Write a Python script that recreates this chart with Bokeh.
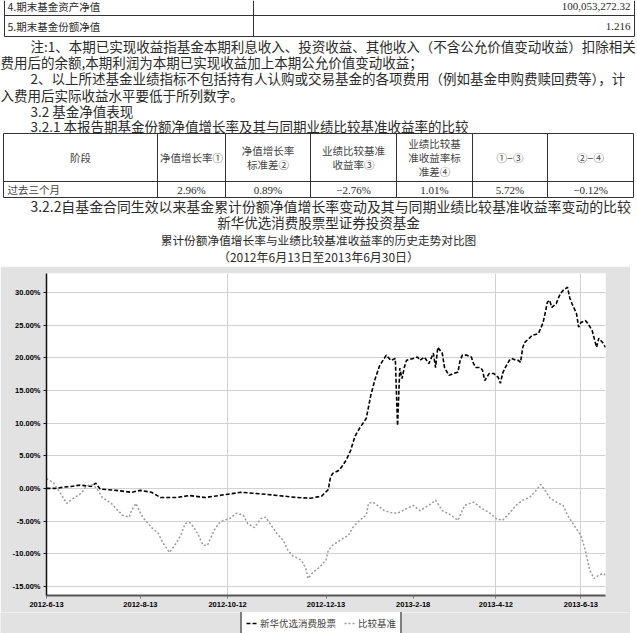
from bokeh.plotting import figure
from bokeh.models import Range1d, FixedTicker, Legend, LegendItem
from bokeh.embed import file_html
from bokeh.resources import INLINE
from bokeh.core.properties import value

# ---------------- data ----------------
x_tick_idx = [0, 42, 81, 125, 164, 201, 239]
x_tick_labels = ["2012-6-13", "2012-8-13", "2012-10-12", "2012-12-13",
                 "2013-2-18", "2013-4-12", "2013-6-13"]
x_grid_idx = [81, 201, 239]
y_ticks = [-15, -10, -5, 0, 5, 10, 15, 20, 25, 30]
y_tick_labels = ["-15.00%", "-10.00%", "-5.00%", "0.00%", "5.00%", "10.00%",
                 "15.00%", "20.00%", "25.00%", "30.00%"]

fund_idx = [0, 4, 8, 11, 15, 20, 22, 24, 31, 38,
            42, 47, 51, 58, 64, 71, 75, 87, 98, 112,
            118, 123, 126, 127, 128, 131, 134, 136, 138, 140,
            143, 145, 147, 149, 152, 154, 156, 157, 158, 159,
            160, 161, 164, 166, 167, 169, 171, 173, 174, 175,
            177, 178, 180, 182, 184, 185, 186, 188, 190, 191,
            192, 194, 195, 196, 198, 200, 202, 203, 204, 205,
            207, 208, 210, 211, 212, 213, 214, 216, 217, 220,
            221, 222, 223, 224, 225, 226, 228, 229, 230, 231,
            233, 234, 235, 237, 238, 239, 241, 242, 244, 246,
            247, 249, 250]
fund_val = [0.0, 0.0, 0.2, 0.3, 0.5, 0.3, 0.8, -0.1, -0.3, -0.6,
            -0.3, -0.6, -1.4, -1.4, -1.1, -1.4, -1.2, -0.6, -0.9, -1.4,
            -1.5, -1.2, -0.2, 1.7, 2.3, 2.8, 4.3, 5.8, 8.0, 9.2,
            10.7, 14.2, 16.8, 18.8, 20.4, 19.6, 19.9, 9.6, 18.4, 16.8,
            18.5, 19.6, 19.9, 20.1, 19.6, 20.1, 19.1, 20.7, 18.5, 21.6,
            20.7, 18.5, 17.3, 17.6, 17.8, 19.6, 20.4, 20.4, 20.1, 19.1,
            18.5, 18.5, 18.1, 16.5, 17.6, 17.6, 17.0, 16.1, 17.6, 18.4,
            19.6, 19.9, 19.6, 19.6, 19.3, 21.6, 22.4, 23.0, 23.4, 23.7,
            24.5, 25.3, 26.8, 28.5, 28.8, 27.7, 28.3, 29.2, 29.9, 30.3,
            30.8, 29.2, 28.3, 26.8, 24.7, 25.4, 25.7, 25.3, 24.2, 21.6,
            23.0, 22.2, 21.6]

bench_idx = [0, 3, 6, 9, 12, 14, 16, 17, 19, 21,
             23, 25, 29, 32, 34, 37, 38, 40, 41, 43,
             47, 50, 52, 55, 58, 60, 62, 64, 66, 68,
             70, 72, 75, 77, 79, 82, 85, 88, 90, 93,
             96, 98, 100, 103, 106, 108, 110, 114, 116, 117,
             119, 122, 125, 126, 128, 131, 135, 137, 140, 143,
             144, 146, 148, 151, 154, 157, 161, 164, 167, 171,
             174, 177, 181, 184, 187, 191, 194, 198, 201, 204,
             207, 210, 213, 216, 219, 221, 223, 225, 228, 231,
             233, 236, 239, 241, 243, 245, 247, 249, 250]
bench_val = [1.5, 0.9, -0.6, -2.3, -1.5, -1.1, -0.6, 0.0, 0.5, 0.5,
             -0.3, -1.4, -2.3, -3.4, -4.1, -4.4, -3.4, -2.3, -3.1, -4.4,
             -6.0, -6.9, -8.3, -9.8, -8.4, -7.2, -5.4, -5.2, -6.0, -7.2,
             -8.7, -8.7, -6.4, -5.4, -4.9, -4.6, -3.8, -4.1, -5.4, -6.0,
             -4.6, -4.4, -5.4, -6.9, -8.0, -9.5, -10.3, -11.0, -12.3, -13.8,
             -12.9, -12.1, -11.0, -9.5, -8.7, -8.0, -7.2, -6.0, -4.9, -4.1,
             -2.3, -2.1, -2.6, -3.4, -3.7, -3.8, -3.1, -2.6, -3.4, -2.6,
             -1.8, -3.4, -4.1, -4.9, -2.6, -2.1, -2.9, -3.7, -4.6, -4.9,
             -3.8, -2.6, -1.8, -1.4, -0.3, 0.6, -0.3, -1.4, -2.1, -2.6,
             -4.1, -5.7, -7.2, -9.5, -12.6, -13.8, -13.3, -13.0, -13.3]
series_names = ["新华优选消费股票", "比较基准"]

nav_labels = ["4.期末基金资产净值", "5.期末基金份额净值"]
nav_values = ["100,053,272.32", "1.216"]
table_header = [["阶段"], ["净值增长率①"], ["净值增长率", "标准差②"],
                ["业绩比较基准", "收益率③"], ["业绩比较基", "准收益率标", "准差④"],
                ["①−③"], ["②−④"]]
table_row = ["过去三个月", "2.96%", "0.89%", "−2.76%", "1.01%", "5.72%", "−0.12%"]

note_lines = [
    "注:1、本期已实现收益指基金本期利息收入、投资收益、其他收入（不含公允价值变动收益）扣除相关",
    "费用后的余额,本期利润为本期已实现收益加上本期公允价值变动收益；",
    "2、以上所述基金业绩指标不包括持有人认购或交易基金的各项费用（例如基金申购费赎回费等），计",
    "入费用后实际收益水平要低于所列数字。",
    "3.2 基金净值表现",
    "3.2.1 本报告期基金份额净值增长率及其与同期业绩比较基准收益率的比较",
]
section_line = "3.2.2自基金合同生效以来基金累计份额净值增长率变动及其与同期业绩比较基准收益率变动的比较"
chart_titles = ["新华优选消费股票型证券投资基金",
                "累计份额净值增长率与业绩比较基准收益率的历史走势对比图",
                "（2012年6月13日至2013年6月30日）"]

# ---------------- styles ----------------
CJK = "Noto Sans CJK SC"
SERIF = "Liberation Serif"
SANS = "Liberation Sans"
TXT = "#2a2a2a"
GRAY = "#e2e2e2"
W = 637
CW = 630
TOP_H = 266
LEG_H = 21
CH = 633 - TOP_H - LEG_H

top = figure(width=W, height=TOP_H, x_range=Range1d(0, W), y_range=Range1d(TOP_H, 0),
             output_backend="svg", toolbar_location=None, min_border=0,
             outline_line_color=None, background_fill_color="white", border_fill_color="white")
top.axis.visible = False
top.grid.visible = False


def put(x, y, s, size="13.5px", font=CJK, align="left", color=TXT):
    top.text(x=[x], y=[y], text=[s], text_font=value(font), text_font_size=size,
             text_align=align, text_baseline="middle", text_color=color)


# small NAV table fragment
top.segment(x0=[4, 253, 634], y0=[0, 0, 0], x1=[4, 253, 634], y1=[36, 36, 36],
            line_color="#333", line_width=1)
top.segment(x0=[4, 4], y0=[15, 36], x1=[634, 634], y1=[15, 36], line_color="#333", line_width=1)
put(7, 5.5, nav_labels[0], size="10.5px")
put(630, 5.5, nav_values[0], size="11px", font=SERIF, align="right")
put(7, 25.5, nav_labels[1], size="10.5px")
put(630, 25.5, nav_values[1], size="11px", font=SERIF, align="right")

# notes
note_pos = [(30, 45), (0, 61), (30, 77.5), (0, 94), (30, 110), (30, 125)]
for (x, y), s in zip(note_pos, note_lines):
    put(x, y, s, size="13.5px")

# table 3.2.1
cb = [3, 157, 225, 310, 396, 472, 547, 633]
T0, T1, T2 = 133, 181, 197
top.segment(x0=cb, y0=[T0] * len(cb), x1=cb, y1=[T2] * len(cb), line_color="#333", line_width=1)
top.segment(x0=[cb[0]] * 3, y0=[T0, T1, T2], x1=[cb[-1]] * 3, y1=[T0, T1, T2],
            line_color="#333", line_width=1)
for i, lines in enumerate(table_header):
    cx = (cb[i] + cb[i + 1]) / 2
    n = len(lines)
    for k, s in enumerate(lines):
        y = (T0 + T1) / 2 + (k - (n - 1) / 2) * 14
        put(cx, y, s, size="10.5px", align="center", color="#444")
put(7, (T1 + T2) / 2, table_row[0], size="10.5px", color="#444")
for i in range(1, 7):
    cx = (cb[i] + cb[i + 1]) / 2
    put(cx, (T1 + T2) / 2, table_row[i], size="11px", font=SERIF, align="center")

put(30, 205, section_line, size="13.9px")
put(318, 221, chart_titles[0], size="13.5px", align="center")
put(318, 239, chart_titles[1], size="11.7px", align="center")
put(318, 256, chart_titles[2], size="12px", align="center")

# ---------------- chart ----------------
chart = figure(width=CW, height=CH, x_range=Range1d(0, 250), y_range=Range1d(-16.4, 32.9),
               output_backend="svg", toolbar_location=None,
               min_border_left=46, min_border_right=25, min_border_top=7, min_border_bottom=17,
               border_fill_color=GRAY, background_fill_color="white",
               outline_line_color=None)

chart.yaxis.ticker = FixedTicker(ticks=y_ticks)
chart.yaxis.major_label_overrides = dict(zip(y_ticks, y_tick_labels))
chart.xaxis.ticker = FixedTicker(ticks=x_tick_idx)
chart.xaxis.major_label_overrides = dict(zip(x_tick_idx, x_tick_labels))
for ax in (chart.xaxis, chart.yaxis):
    ax.major_label_text_font = SANS
    ax.major_label_text_font_size = "7.5px"
    ax.major_label_text_font_style = "bold"
    ax.major_label_text_color = "black"
    ax.minor_tick_line_color = None
    ax.major_tick_in = 0
    ax.major_tick_out = 3
    ax.major_label_standoff = 3
chart.yaxis.axis_line_color = "#111"
chart.yaxis.axis_line_width = 1.5
chart.yaxis.major_tick_line_color = "#111"
chart.xaxis.axis_line_color = "#555"
chart.xaxis.axis_line_width = 2
chart.xaxis.major_tick_line_color = "#777"
chart.ygrid.grid_line_color = "#d2d2d2"
chart.xgrid.ticker = FixedTicker(ticks=x_grid_idx)
chart.xgrid.grid_line_color = "#d2d2d2"

FUND_STYLE = dict(line_color="black", line_width=1.6, line_dash="4 2")
BENCH_STYLE = dict(line_color="#9a9a9a", line_width=1.5, line_dash="2 2")
chart.line(fund_idx, fund_val, **FUND_STYLE)
chart.line(bench_idx, bench_val, **BENCH_STYLE)

# ---------------- legend strip (same series, ranges chosen so only the key shows) ----
leg = figure(width=CW, height=LEG_H, x_range=Range1d(-20, -10), y_range=Range1d(-20, -10),
             output_backend="svg", toolbar_location=None, min_border=0,
             outline_line_color=None, background_fill_color=GRAY, border_fill_color=GRAY)
leg.axis.visible = False
leg.grid.visible = False
lf = leg.line(fund_idx, fund_val, **FUND_STYLE)
lb = leg.line(bench_idx, bench_val, **BENCH_STYLE)
legend = Legend(items=[LegendItem(label=series_names[0], renderers=[lf]),
                       LegendItem(label=series_names[1], renderers=[lb])],
                orientation="horizontal", location=(240, -3), margin=0, padding=4,
                spacing=8, glyph_width=11, glyph_height=8, label_standoff=3,
                label_text_font=CJK, label_text_font_size="9.5px", label_height=10,
                border_line_color="black", border_line_width=2,
                background_fill_color="white", background_fill_alpha=1.0)
leg.add_layout(legend, "center")

open("out.html", "w").write(file_html([top, chart, leg], INLINE))
